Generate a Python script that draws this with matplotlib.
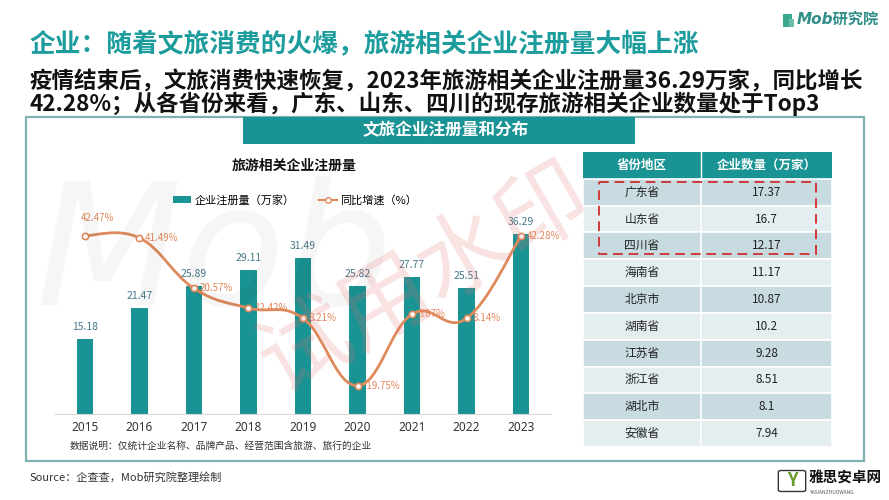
import matplotlib
matplotlib.use("Agg")
import matplotlib.pyplot as plt
from matplotlib.patches import Rectangle, FancyBboxPatch, PathPatch
from matplotlib.path import Path
from matplotlib.lines import Line2D
import numpy as np

plt.rcParams['font.family'] = ['Noto Sans CJK SC', 'DejaVu Sans']

# ---------------- data ----------------
years = ['2015', '2016', '2017', '2018', '2019', '2020', '2021', '2022', '2023']
registrations = [15.18, 21.47, 25.89, 29.11, 31.49, 25.82, 27.77, 25.51, 36.29]
growth = [42.47, 41.49, 20.57, 12.42, 8.21, -19.75, 9.87, 8.14, 42.28]
provinces = ['广东省', '山东省', '四川省', '海南省', '北京市', '湖南省', '江苏省', '浙江省', '湖北市', '安徽省']
counts = ['17.37', '16.7', '12.17', '11.17', '10.87', '10.2', '9.28', '8.51', '8.1', '7.94']
table_header = ['省份地区', '企业数量（万家）']

TEAL = '#1a9394'
TITLE_TEAL = '#1c9c9c'
ORANGE = '#de8a5c'
ORANGE_TXT = '#e4875a'
BARLBL = '#45788a'

W, H = 889, 500
fig = plt.figure(figsize=(W / 100, H / 100), dpi=100)


def fx(x):
    return x / W


def fy(y):
    return 1 - y / H


def rect(l, t, r, b):
    return [fx(l), fy(b), fx(r) - fx(l), fy(t) - fy(b)]


# ---------------- watermarks ----------------
fig.text(fx(35), fy(258), 'Mob', fontsize=122, style='italic',
         family=['DejaVu Sans', 'Noto Sans CJK SC'],
         color='#000000', alpha=0.035, ha='left', va='center', zorder=0)
fig.text(fx(425), fy(280), '试用水印', fontsize=66, color='#e07070', alpha=0.2,
         rotation=30, ha='center', va='center', zorder=0)

# ---------------- titles ----------------
fig.text(fx(30), fy(45), '企业：随着文旅消费的火爆，旅游相关企业注册量大幅上涨', fontsize=18.5,
         fontweight='bold', color=TITLE_TEAL, ha='left', va='center')
fig.text(fx(30), fy(82), '疫情结束后，文旅消费快速恢复，2023年旅游相关企业注册量36.29万家，同比增长',
         fontsize=16.2, fontweight='bold', color='#111111', ha='left', va='center')
fig.text(fx(30), fy(104), '42.28%；从各省份来看，广东、山东、四川的现存旅游相关企业数量处于Top3',
         fontsize=16.2, fontweight='bold', color='#111111', ha='left', va='center')

# top-right logo
fig.patches.append(Rectangle((fx(783), fy(27)), fx(9), fy(14) - fy(27), transform=fig.transFigure,
                             facecolor='#3aa88f', edgecolor='none'))
fig.patches.append(Rectangle((fx(789), fy(27)), fx(5), fy(19) - fy(27), transform=fig.transFigure,
                             facecolor='#6cc0a8', edgecolor='none'))
fig.text(fx(797), fy(19), 'Mob研究院', fontsize=11, style='italic', color='#2f8f88',
         family=['DejaVu Sans', 'Noto Sans CJK SC'],
         ha='left', va='center', fontweight='bold')

# ---------------- outer box + header bar ----------------
fig.patches.append(Rectangle((fx(26), fy(461)), fx(864) - fx(26), fy(117) - fy(461),
                             transform=fig.transFigure, facecolor='none',
                             edgecolor='#7fb1b2', lw=1.6, zorder=1))
fig.patches.append(Rectangle((fx(243), fy(144)), fx(635) - fx(243), fy(117) - fy(144),
                             transform=fig.transFigure, facecolor=TEAL, edgecolor='none', zorder=2))
fig.text(fx(446), fy(130), '文旅企业注册量和分布', fontsize=12, fontweight='bold', color='white',
         ha='center', va='center', zorder=3)

# ---------------- chart ----------------
fig.text(fx(294), fy(166), '旅游相关企业注册量', fontsize=10, fontweight='bold', color='#111111',
         ha='center', va='center')

ax = fig.add_axes(rect(55, 216, 551, 414))
ax.patch.set_alpha(0)
x = np.arange(len(years))
ax.bar(x, registrations, width=0.3, color=TEAL, zorder=2)
ax.set_xlim(-0.55, len(years) - 0.45)
ax.set_ylim(0, 40)
ax.set_xticks(x)
ax.set_xticklabels(years, fontsize=8.5, color='#333333', family=['Noto Sans', 'DejaVu Sans'])
ax.tick_params(axis='x', length=0, pad=5)
ax.set_yticks([])
for s in ['top', 'right', 'left']:
    ax.spines[s].set_visible(False)
ax.spines['bottom'].set_color('#d9d9d9')
for xi, v in zip(x, registrations):
    ax.annotate(f'{v:.2f}', (xi, v), xytext=(0, 5), textcoords='offset points',
                ha='center', va='bottom', fontsize=7.5, color=BARLBL)

ax2 = ax.twinx()
ax2.set_ylim(-31.5, 50.6)
ax2.set_yticks([])
for s in ax2.spines.values():
    s.set_visible(False)

# smooth curve through the data points (Catmull-Rom -> cubic Bezier)
pts = np.column_stack([x, growth]).astype(float)
sm = 0.2
verts = [tuple(pts[0])]
codes = [Path.MOVETO]
n = len(pts)
for i in range(n - 1):
    p0 = pts[max(i - 1, 0)]
    p1 = pts[i]
    p2 = pts[i + 1]
    p3 = pts[min(i + 2, n - 1)]
    c1 = p1 + (p2 - p0) * sm
    c2 = p2 - (p3 - p1) * sm
    verts += [tuple(c1), tuple(c2), tuple(p2)]
    codes += [Path.CURVE4] * 3
ax2.add_patch(PathPatch(Path(verts, codes), facecolor='none', edgecolor=ORANGE, lw=2, zorder=3))
ax2.plot(x, growth, linestyle='none', marker='o', markersize=4.5, markerfacecolor='white',
         markeredgecolor=ORANGE, markeredgewidth=1.2, zorder=4)
for i, (xi, v) in enumerate(zip(x, growth)):
    if i == 0:
        ax2.annotate(f'{v:.2f}%', (xi, v), xytext=(9, 9), textcoords='offset points',
                     ha='center', va='bottom', fontsize=7, color=ORANGE_TXT)
    else:
        ax2.annotate(f'{v:.2f}%', (xi, v), xytext=(4, 0), textcoords='offset points',
                     ha='left', va='center', fontsize=7, color=ORANGE_TXT)

handles = [Rectangle((0, 0), 1, 1, facecolor=TEAL, edgecolor='none'),
           Line2D([0], [0], color=ORANGE, lw=1.5, marker='o', markersize=4,
                  markerfacecolor='white', markeredgecolor=ORANGE)]
fig.legend(handles, ['企业注册量（万家）', '同比增速（%）'], loc='center',
           bbox_to_anchor=(fx(295), fy(200)), ncol=2, frameon=False, fontsize=8,
           handlelength=1.6, handleheight=0.7, columnspacing=2.2, handletextpad=0.3)

fig.text(fx(70), fy(446), '数据说明：仅统计企业名称、品牌产品、经营范围含旅游、旅行的企业',
         fontsize=7, color='#333333', ha='left', va='center')

# ---------------- table ----------------
axt = fig.add_axes(rect(583, 152, 832, 447))
axt.set_xlim(0, 1)
nrows = len(provinces) + 1
axt.set_ylim(nrows, 0)
axt.axis('off')
split = 0.474
axt.add_patch(Rectangle((0, 0), 1, 1, facecolor=TEAL, edgecolor='none'))
axt.plot([split, split], [0, 1], color='white', lw=1)
axt.text(split / 2, 0.5, table_header[0], ha='center', va='center', color='white',
         fontsize=9, fontweight='bold')
axt.text((1 + split) / 2, 0.5, table_header[1], ha='center', va='center', color='white',
         fontsize=9, fontweight='bold')
for i, (p, c) in enumerate(zip(provinces, counts)):
    r = i + 1
    col = '#c8dbe0' if i % 2 == 0 else '#e4eef1'
    axt.add_patch(Rectangle((0, r), 1, 1, facecolor=col, edgecolor='white', lw=1.2))
    axt.plot([split, split], [r, r + 1], color='white', lw=1.2)
    axt.text(split / 2, r + 0.5, p, ha='center', va='center', fontsize=8.5, color='#222222')
    axt.text((1 + split) / 2, r + 0.5, c, ha='center', va='center', fontsize=8.5, color='#222222')
axt.add_patch(Rectangle((0.064, 1.12), 0.936 - 0.064, 3.8 - 1.12, facecolor='none',
                        edgecolor='#d03a3a', lw=1.4, linestyle=(0, (5, 3)), zorder=5))

# ---------------- footer ----------------
fig.text(fx(30), fy(477), 'Source：企查查，Mob研究院整理绘制', fontsize=8, color='#333333',
         ha='left', va='center')
fig.patches.append(FancyBboxPatch((fx(781), fy(490)), fx(22), fy(472) - fy(490),
                                  boxstyle='round,pad=0.003', transform=fig.transFigure,
                                  facecolor='white', edgecolor='#333333', lw=1))
fig.text(fx(792), fy(481), 'Y', fontsize=13, fontweight='bold', color='#6a9a2a',
         ha='center', va='center')
fig.text(fx(809), fy(478), '雅思安卓网', fontsize=10.5, fontweight='bold', color='#111111',
         ha='left', va='center')
fig.text(fx(810), fy(492), 'YASIANZHUOWANG', fontsize=3.5, color='#555555',
         ha='left', va='center')

fig.savefig('out.png', dpi=100)
